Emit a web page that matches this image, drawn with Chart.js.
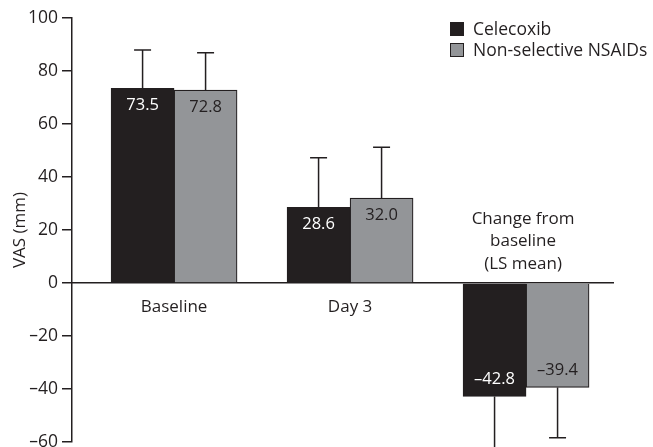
<!DOCTYPE html>
<html>
<head>
<meta charset="utf-8">
<script src="https://cdn.jsdelivr.net/npm/chart.js@4"></script>
<style>
  body { margin: 0; background: #fff; }
  #wrap { width: 653px; height: 447px; }
</style>
</head>
<body>
<div id="wrap"><canvas id="graph"></canvas></div>
<script>
// categories and values
var categories = ['Baseline', 'Day 3', 'Change from baseline (LS mean)'];
var seriesNames = ['Celecoxib', 'Non-selective NSAIDs'];
var celecoxib = [73.5, 28.6, -42.8];
var nsaids = [72.8, 32.0, -39.4];
// error bar lengths (SD), drawn away from zero
var celecoxibSD = [14.4, 18.7, 21.0];
var nsaidsSD = [14.1, 19.2, 19.0];
var yTicks = [-60, -40, -20, 0, 20, 40, 60, 80, 100];

var INK = '#231f20';
var GREY = '#939598';
var FONT = '"Open Sans", sans-serif';

Chart.defaults.font.family = FONT;
Chart.defaults.color = INK;

// error bars above / below each bar
var errorBars = {
    id: 'errorBars',
    afterDatasetsDraw: function (chart) {
        var ctx = chart.ctx;
        var y = chart.scales.y;
        ctx.save();
        ctx.strokeStyle = INK;
        ctx.lineWidth = 1.5;
        chart.data.datasets.forEach(function (ds, di) {
            var meta = chart.getDatasetMeta(di);
            meta.data.forEach(function (bar, i) {
                var v = ds.data[i].y;
                var sd = ds.sd[i];
                var end = v >= 0 ? v + sd : v - sd;
                var py = y.getPixelForValue(end);
                ctx.beginPath();
                ctx.moveTo(bar.x, bar.y);
                ctx.lineTo(bar.x, py);
                ctx.moveTo(bar.x - 8.5, py);
                ctx.lineTo(bar.x + 8.5, py);
                ctx.stroke();
            });
        });
        ctx.restore();
    }
};

// value labels inside the bars, legend, third category label
var labelsPlugin = {
    id: 'labelsPlugin',
    afterDraw: function (chart) {
        var ctx = chart.ctx;
        var x = chart.scales.x;
        var y = chart.scales.y;
        ctx.save();
        ctx.font = '16.5px ' + FONT;
        ctx.textAlign = 'center';
        ctx.textBaseline = 'middle';
        chart.data.datasets.forEach(function (ds, di) {
            var meta = chart.getDatasetMeta(di);
            ctx.fillStyle = di === 0 ? '#ffffff' : INK;
            meta.data.forEach(function (bar, i) {
                var v = ds.data[i].y;
                var ty = v >= 0 ? bar.y + 17 : bar.y - 17;
                ctx.fillText(v.toFixed(1).replace('-', '\u2013'), bar.x, ty);
            });
        });

        // label of the third group, above the zero line
        ctx.fillStyle = INK;
        ctx.font = '17px ' + FONT;
        var cx = x.getPixelForValue(2) - 3;
        var lines = ['Change from', 'baseline', '(LS mean)'];
        var base = y.getPixelForValue(0) - 19;
        for (var k = 0; k < lines.length; k++) {
            ctx.fillText(lines[k], cx, base - (lines.length - 1 - k) * 22.5);
        }

        // legend
        ctx.font = '17.5px ' + FONT;
        ctx.textAlign = 'left';
        ctx.lineWidth = 1;
        ctx.strokeStyle = INK;
        chart.data.datasets.forEach(function (ds, di) {
            var ry = 29 + di * 21;
            ctx.fillStyle = ds.backgroundColor;
            ctx.fillRect(450, ry - 7, 14, 14);
            ctx.strokeRect(450.5, ry - 6.5, 13, 13);
            ctx.fillStyle = INK;
            ctx.fillText(ds.label, 473, ry + 1);
        });
        ctx.restore();
    }
};

function toPoints(arr) {
    return arr.map(function (v, i) { return { x: i, y: v }; });
}

var ctx = document.getElementById('graph').getContext('2d');
var chart = new Chart(ctx, {
    type: 'bar',
    data: {
        datasets: [{
            label: seriesNames[0],
            data: toPoints(celecoxib),
            sd: celecoxibSD,
            backgroundColor: INK,
            borderColor: INK,
            borderWidth: 1,
            barThickness: 63
        }, {
            label: seriesNames[1],
            data: toPoints(nsaids),
            sd: nsaidsSD,
            backgroundColor: GREY,
            borderColor: INK,
            borderWidth: 1.2,
            barThickness: 63
        }]
    },
    options: {
        responsive: true,
        maintainAspectRatio: false,
        animation: false,
        layout: { padding: { top: 18, bottom: 5, right: 40, left: 0 } },
        plugins: {
            legend: { display: false },
            tooltip: { enabled: false }
        },
        scales: {
            x: {
                type: 'linear',
                position: { y: 0 },
                offset: false,
                bounds: 'data',
                min: -0.58,
                max: 2.494,
                afterBuildTicks: function (scale) {
                    scale.ticks = [{ value: 0 }, { value: 1 }];
                },
                ticks: {
                    font: { size: 17 },
                    color: INK,
                    padding: 6,
                    maxRotation: 0,
                    callback: function (v) { return categories[v]; }
                },
                grid: { display: false },
                border: { display: true, color: INK, width: 1.5 }
            },
            y: {
                min: -60,
                max: 100,
                afterBuildTicks: function (scale) {
                    scale.ticks = yTicks.map(function (v) { return { value: v }; });
                },
                afterFit: function (scale) {
                    scale.width = 72;
                    scale.paddingTop = 0;
                    scale.paddingBottom = 0;
                },
                ticks: {
                    font: { size: 17.5 },
                    color: INK,
                    padding: 4,
                    callback: function (v) { return String(v).replace('-', '\u2013'); }
                },
                grid: {
                    drawOnChartArea: false,
                    drawTicks: true,
                    tickLength: 10,
                    color: INK,
                    lineWidth: 1.5
                },
                border: { display: true, color: INK, width: 1.5 },
                title: {
                    display: true,
                    text: 'VAS (mm)',
                    font: { size: 17 },
                    color: INK,
                    padding: { top: 10, bottom: 2 }
                }
            }
        }
    },
    plugins: [errorBars, labelsPlugin]
});
</script>
</body>
</html>
